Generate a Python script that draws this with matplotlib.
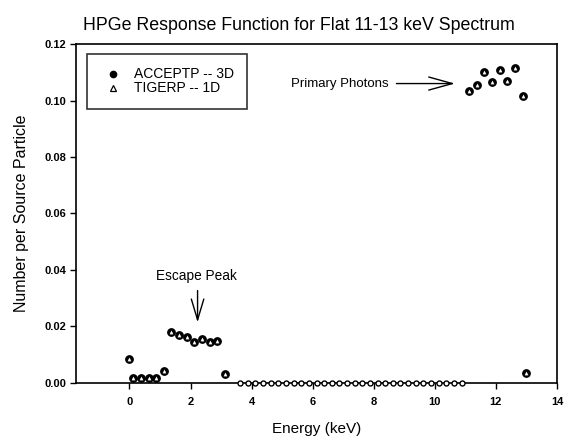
import matplotlib
matplotlib.use("Agg")
import matplotlib.pyplot as plt
import numpy as np

plt.rcParams['font.family'] = ['Liberation Sans', 'DejaVu Sans']

# Data (energy in keV, counts per source particle)
energy_low = [0.0, 0.125, 0.375, 0.625, 0.875, 1.125, 1.375, 1.625, 1.875,
              2.125, 2.375, 2.625, 2.875, 3.125]
counts_low = [0.0086, 0.0017, 0.0017, 0.0017, 0.0017, 0.0043, 0.0180, 0.0170,
              0.0164, 0.0146, 0.0154, 0.0145, 0.0148, 0.0031]
energy_zero = [3.625, 3.875, 4.125, 4.375, 4.625, 4.875, 5.125, 5.375, 5.625,
               5.875, 6.125, 6.375, 6.625, 6.875, 7.125, 7.375, 7.625, 7.875,
               8.125, 8.375, 8.625, 8.875, 9.125, 9.375, 9.625, 9.875, 10.125,
               10.375, 10.625, 10.875]
counts_zero = [0.0] * len(energy_zero)
energy_primary = [11.125, 11.375, 11.625, 11.875, 12.125, 12.375, 12.625, 12.875, 13.0]
counts_primary = [0.1032, 0.1054, 0.1102, 0.1064, 0.1108, 0.1068, 0.1116, 0.1016, 0.0036]

energy = np.array(energy_low + energy_zero + energy_primary)
acceptp = np.array(counts_low + counts_zero + counts_primary)
tigerp = np.array(counts_low + counts_zero + counts_primary)

xticks = [0, 2, 4, 6, 8, 10, 12, 14]
yticks = [0.00, 0.02, 0.04, 0.06, 0.08, 0.10, 0.12]

fig = plt.figure(figsize=(5.64, 4.37), dpi=100)
ax = fig.add_axes([0.1348, 0.1236, 0.8528, 0.7757])

nz = acceptp > 0
z = ~nz
ax.plot(energy[nz], acceptp[nz], linestyle='none', marker='o', markersize=5.3,
        color='black', clip_on=False, zorder=3)
ax.plot(energy[nz], tigerp[nz], linestyle='none', marker='^', markersize=2.4,
        markerfacecolor='white', markeredgecolor='white', markeredgewidth=0.2,
        clip_on=False, zorder=4)
# zero-valued bins: small open symbols sitting on the axis
ax.plot(energy[z], acceptp[z], linestyle='none', marker='o', markersize=3.6,
        markerfacecolor='white', markeredgecolor='black', markeredgewidth=1.0,
        clip_on=False, zorder=3)

# legend entries
ax.plot([], [], linestyle='none', marker='o', markersize=4.5, color='black',
        label='ACCEPTP -- 3D')
ax.plot([], [], linestyle='none', marker='^', markersize=4.0,
        markerfacecolor='white', markeredgecolor='black', markeredgewidth=0.9,
        label='TIGERP -- 1D')

ax.set_xlim(-1.75, 14)
ax.set_ylim(0, 0.12)
ax.set_xticks(xticks)
ax.set_yticks(yticks)
ax.set_xticklabels([str(t) for t in xticks], fontweight='bold', fontsize=8)
ax.set_yticklabels(['%.2f' % t for t in yticks], fontweight='bold', fontsize=8)
ax.tick_params(axis='x', direction='out', length=4, width=1, pad=6)
ax.tick_params(axis='y', direction='out', length=4, width=1, pad=3)
for s in ax.spines.values():
    s.set_linewidth(1.2)

ax.set_xlabel('Energy (keV)', fontsize=11, labelpad=11)
ax.set_ylabel('Number per Source Particle', fontsize=11.5, labelpad=11)
ax.set_title('HPGe Response Function for Flat 11-13 keV Spectrum', fontsize=12.8, pad=10)
ax.title.set_x(0.4626)

leg = ax.legend(loc='upper left', bbox_to_anchor=(0.023, 0.97), fontsize=10,
                frameon=True, fancybox=False, edgecolor='black', borderpad=0.95,
                handletextpad=0.6, labelspacing=0.0, handlelength=1.8,
                borderaxespad=0.0)
leg.get_frame().set_linewidth(1.2)

ax.annotate('', xy=(2.23, 0.0205), xytext=(2.23, 0.0337),
            arrowprops=dict(arrowstyle='->,head_length=1.5,head_width=0.45',
                            color='black', lw=1.0))
ax.text(2.2, 0.0378, 'Escape Peak', ha='center', va='center', fontsize=9.8)

ax.text(5.3, 0.106, 'Primary Photons', ha='left', va='center', fontsize=9.5)
ax.annotate('', xy=(10.75, 0.106), xytext=(8.65, 0.106),
            arrowprops=dict(arrowstyle='->,head_length=1.7,head_width=0.47',
                            color='black', lw=1.0))

fig.savefig('out.png', dpi=100)
